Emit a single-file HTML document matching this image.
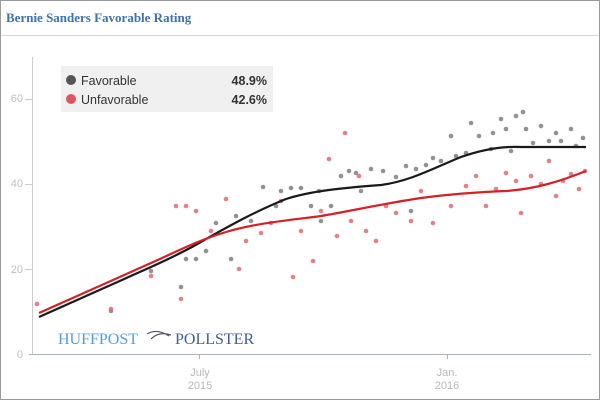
<!DOCTYPE html>
<html><head><meta charset="utf-8"><style>
body{margin:0;background:#fff}
.w{position:relative;width:598px;height:398px;border:1px solid #9a9a9a;font-family:"Liberation Sans",sans-serif}
</style></head><body><div class="w">
<svg width="598" height="398" style="position:absolute;left:0;top:0">
<text x="5" y="21" font-family="Liberation Serif" font-weight="bold" font-size="13" fill="#3f72a6">Bernie Sanders Favorable Rating</text>
<line x1="0" y1="34.5" x2="598" y2="34.5" stroke="#d8d8d8"/>
<line x1="31.5" y1="56" x2="31.5" y2="353" stroke="#ccc"/>
<line x1="28" y1="353.5" x2="590" y2="353.5" stroke="#aab4c0"/>
<g font-size="11" fill="#c0c0c0" text-anchor="end">
<text x="22" y="357">0</text><text x="22" y="272">20</text><text x="22" y="186">40</text><text x="22" y="101">60</text></g>
<g stroke="#ccc"><line x1="24" y1="268.5" x2="31" y2="268.5"/><line x1="24" y1="183.5" x2="31" y2="183.5"/><line x1="24" y1="98.5" x2="31" y2="98.5"/></g>
<g stroke="#aab4c0"><line x1="198.5" y1="353" x2="198.5" y2="358"/><line x1="446.5" y1="353" x2="446.5" y2="358"/></g>
<g font-size="11" fill="#b8b8b8" text-anchor="middle">
<text x="199" y="375">July</text><text x="199" y="388">2015</text>
<text x="446" y="375">Jan.</text><text x="446" y="388">2016</text></g>
<rect x="60" y="65" width="212" height="46" fill="#f0f0f0"/>
<circle cx="70" cy="79" r="5" fill="#555"/><circle cx="70" cy="98" r="5" fill="#de5560"/>
<g font-size="12.5" fill="#333"><text x="80" y="84">Favorable</text><text x="80" y="103">Unfavorable</text>
<text x="266" y="84" text-anchor="end" font-weight="bold">48.9%</text><text x="266" y="103" text-anchor="end" font-weight="bold">42.6%</text></g>
<text x="57" y="343" font-family="Liberation Serif" font-size="16" fill="#5b9bd5">HUFFPOST</text>
<path d="M146 333 q10 -6 22 2 M150 338 q8 -8 20 -4" stroke="#556" fill="none" stroke-width="1.2"/>
<text x="174" y="343" font-family="Liberation Serif" font-size="16" fill="#3f6090">POLLSTER</text>
<g fill="#777" opacity="0.8">
<circle cx="110" cy="310" r="2.3"/><circle cx="180" cy="286" r="2.3"/><circle cx="185" cy="258" r="2.3"/><circle cx="195" cy="258" r="2.3"/><circle cx="215" cy="222" r="2.3"/><circle cx="230" cy="258" r="2.3"/><circle cx="235" cy="215" r="2.3"/><circle cx="262" cy="186" r="2.3"/><circle cx="275" cy="205" r="2.3"/><circle cx="290" cy="187" r="2.3"/><circle cx="300" cy="187" r="2.3"/><circle cx="310" cy="205" r="2.3"/><circle cx="318" cy="190" r="2.3"/><circle cx="330" cy="205" r="2.3"/><circle cx="340" cy="175" r="2.3"/><circle cx="348" cy="170" r="2.3"/><circle cx="355" cy="172" r="2.3"/><circle cx="360" cy="190" r="2.3"/><circle cx="370" cy="168" r="2.3"/><circle cx="382" cy="170" r="2.3"/><circle cx="395" cy="176" r="2.3"/><circle cx="405" cy="165" r="2.3"/><circle cx="415" cy="168" r="2.3"/><circle cx="425" cy="164" r="2.3"/><circle cx="432" cy="157" r="2.3"/><circle cx="440" cy="160" r="2.3"/><circle cx="455" cy="155" r="2.3"/><circle cx="465" cy="152" r="2.3"/><circle cx="470" cy="122" r="2.3"/><circle cx="478" cy="135" r="2.3"/><circle cx="490" cy="148" r="2.3"/><circle cx="492" cy="132" r="2.3"/><circle cx="500" cy="118" r="2.3"/><circle cx="505" cy="128" r="2.3"/><circle cx="510" cy="150" r="2.3"/><circle cx="515" cy="115" r="2.3"/><circle cx="522" cy="111" r="2.3"/><circle cx="525" cy="128" r="2.3"/><circle cx="532" cy="142" r="2.3"/><circle cx="540" cy="125" r="2.3"/><circle cx="548" cy="140" r="2.3"/><circle cx="555" cy="132" r="2.3"/><circle cx="560" cy="140" r="2.3"/><circle cx="570" cy="128" r="2.3"/><circle cx="575" cy="145" r="2.3"/><circle cx="582" cy="137" r="2.3"/><circle cx="150" cy="270" r="2.3"/><circle cx="205" cy="250" r="2.3"/><circle cx="250" cy="220" r="2.3"/><circle cx="280" cy="190" r="2.3"/><circle cx="320" cy="220" r="2.3"/><circle cx="410" cy="210" r="2.3"/><circle cx="450" cy="135" r="2.3"/>
</g>
<g fill="#e06a74" opacity="0.85">
<circle cx="36" cy="303" r="2.3"/><circle cx="110" cy="308" r="2.3"/><circle cx="150" cy="275" r="2.3"/><circle cx="175" cy="205" r="2.3"/><circle cx="185" cy="205" r="2.3"/><circle cx="180" cy="298" r="2.3"/><circle cx="195" cy="210" r="2.3"/><circle cx="210" cy="230" r="2.3"/><circle cx="225" cy="198" r="2.3"/><circle cx="238" cy="268" r="2.3"/><circle cx="245" cy="240" r="2.3"/><circle cx="260" cy="232" r="2.3"/><circle cx="270" cy="222" r="2.3"/><circle cx="280" cy="200" r="2.3"/><circle cx="292" cy="276" r="2.3"/><circle cx="300" cy="230" r="2.3"/><circle cx="312" cy="260" r="2.3"/><circle cx="320" cy="210" r="2.3"/><circle cx="328" cy="158" r="2.3"/><circle cx="336" cy="235" r="2.3"/><circle cx="344" cy="132" r="2.3"/><circle cx="350" cy="220" r="2.3"/><circle cx="358" cy="175" r="2.3"/><circle cx="365" cy="230" r="2.3"/><circle cx="375" cy="240" r="2.3"/><circle cx="385" cy="205" r="2.3"/><circle cx="395" cy="212" r="2.3"/><circle cx="410" cy="220" r="2.3"/><circle cx="420" cy="190" r="2.3"/><circle cx="432" cy="222" r="2.3"/><circle cx="450" cy="205" r="2.3"/><circle cx="465" cy="185" r="2.3"/><circle cx="475" cy="175" r="2.3"/><circle cx="485" cy="205" r="2.3"/><circle cx="495" cy="188" r="2.3"/><circle cx="505" cy="172" r="2.3"/><circle cx="515" cy="180" r="2.3"/><circle cx="520" cy="212" r="2.3"/><circle cx="530" cy="175" r="2.3"/><circle cx="540" cy="183" r="2.3"/><circle cx="548" cy="160" r="2.3"/><circle cx="555" cy="195" r="2.3"/><circle cx="562" cy="180" r="2.3"/><circle cx="570" cy="173" r="2.3"/><circle cx="578" cy="188" r="2.3"/><circle cx="584" cy="170" r="2.3"/>
</g>
<path d="M38 316 L150 266 C170 257 190 247 205 238 C230 224 255 210 285 198 C310 190 340 187 380 184 C410 180 435 166 460 156 C480 149 500 145 520 146 L585 146" stroke="#1a1a1a" stroke-width="2.2" fill="none"/>
<path d="M38 312 L150 262 C175 251 195 240 225 231 C255 222 290 219 320 215 C350 210 380 203 420 197 C450 193 480 191 505 190 C535 188 560 180 585 170" stroke="#d42027" stroke-width="2.2" fill="none"/>
</svg></div></body></html>
